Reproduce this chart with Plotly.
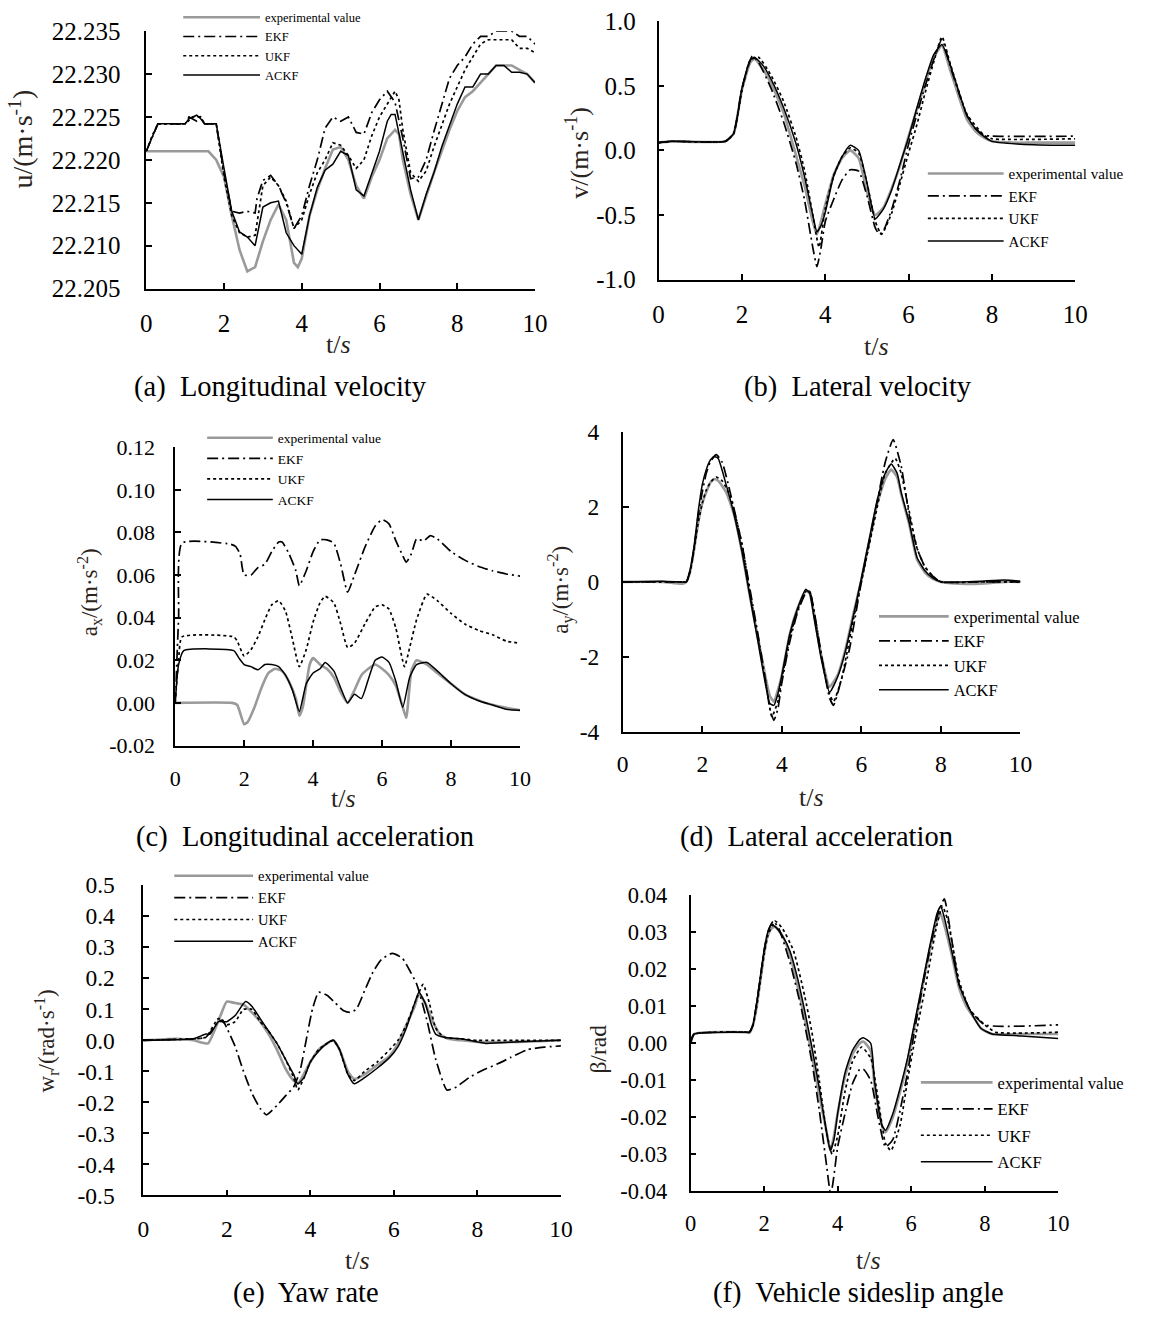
import plotly.graph_objects as go

W, H = 1155, 1319
FONT = "Liberation Serif"

# measured mapping page-pixel -> photographed-pixel (from a calibration run)
SHOT_AX, SHOT_SX = 4.3, 0.9867
SHOT_AY, SHOT_SY = 11.8, 0.9818


def PX(t):
    return (t - SHOT_AX) / SHOT_SX


def PY(t):
    return (t - SHOT_AY) / SHOT_SY


def X(t):
    return PX(t) / W


def Y(t):
    return 1 - PY(t) / H


NAMES = ["experimental value", "EKF", "UKF", "ACKF"]

# ---------------- (a) longitudinal velocity u ----------------
A_EXP_T = [0, 1.6, 1.8, 2.0, 2.2, 2.4, 2.6, 2.8, 3.0, 3.2, 3.4, 3.6, 3.8, 3.9, 4.0, 4.2, 4.4, 4.6, 4.8, 5.0,
           5.2, 5.4, 5.6, 5.8, 6.0, 6.2, 6.4, 6.5, 6.6, 6.8, 7.0, 7.2, 7.4, 7.6, 7.8, 8.0, 8.2, 8.4, 8.6, 8.8,
           9.0, 9.2, 9.4, 9.6, 9.8, 10]
A_EXP = [22.221, 22.221, 22.220, 22.218, 22.2135, 22.2095, 22.207, 22.2075, 22.2105, 22.213,
         22.2148, 22.213, 22.208, 22.2075, 22.2085, 22.2135, 22.2165, 22.219, 22.2212, 22.2215,
         22.220, 22.217, 22.2155, 22.218, 22.220, 22.2225, 22.2235, 22.223, 22.220, 22.216,
         22.213, 22.2158, 22.2185, 22.221, 22.2235, 22.2257, 22.2273, 22.228, 22.229, 22.230,
         22.231, 22.231, 22.231, 22.2305, 22.230, 22.229]
A_EKF_T = [0, 0.15, 0.3, 1.0, 1.1, 1.3, 1.4, 1.5, 1.8, 2.0, 2.2, 2.4, 2.6, 2.8, 2.85, 3.0, 3.2, 3.4, 3.6, 3.8,
           4.0, 4.2, 4.4, 4.6, 4.8, 5.0, 5.2, 5.4, 5.6, 5.8, 6.0, 6.2, 6.4, 6.6, 6.8, 7.0, 7.2, 7.4, 7.6, 7.8,
           8.0, 8.2, 8.4, 8.6, 8.8, 9.0, 9.2, 9.4, 9.6, 9.8, 10]
A_EKF = [22.221, 22.2225, 22.2242, 22.2242, 22.2250, 22.2245, 22.2250, 22.2242, 22.2242, 22.2185,
         22.214, 22.2138, 22.214, 22.2138, 22.2155, 22.2176, 22.2182, 22.217, 22.215, 22.212,
         22.2135, 22.217, 22.220, 22.2237, 22.225, 22.2245, 22.225, 22.2232, 22.223, 22.2255,
         22.227, 22.228, 22.2267, 22.2225, 22.2178, 22.218, 22.220, 22.2233, 22.2265, 22.2295,
         22.231, 22.232, 22.2335, 22.2344, 22.2344, 22.235, 22.235, 22.235, 22.2344, 22.2344, 22.2335]
A_UKF_T = [0, 0.15, 0.3, 1.0, 1.2, 1.4, 1.5, 1.8, 2.0, 2.2, 2.4, 2.6, 2.8, 3.0, 3.2, 3.4, 3.6, 3.8, 4.0, 4.2,
           4.4, 4.6, 4.8, 5.0, 5.2, 5.4, 5.6, 5.8, 6.0, 6.2, 6.4, 6.5, 6.6, 6.8, 7.0, 7.2, 7.4, 7.6, 7.8, 8.0,
           8.2, 8.4, 8.6, 8.8, 9.0, 9.2, 9.4, 9.6, 9.8, 10]
A_UKF = [22.221, 22.2228, 22.2242, 22.2242, 22.2250, 22.2250, 22.2242, 22.2242, 22.218, 22.2135,
         22.2115, 22.211, 22.2112, 22.217, 22.218, 22.217, 22.2152, 22.212, 22.213, 22.216,
         22.2185, 22.220, 22.222, 22.2217, 22.2205, 22.219, 22.220, 22.2228, 22.225, 22.2265,
         22.228, 22.227, 22.2235, 22.2185, 22.2175, 22.2187, 22.2215, 22.224, 22.2265, 22.2285,
         22.2305, 22.232, 22.2335, 22.234, 22.234, 22.234, 22.234, 22.233, 22.233, 22.2325]
A_ACKF_T = [0, 0.3, 1.0, 1.1, 1.3, 1.4, 1.5, 1.8, 2.0, 2.2, 2.4, 2.6, 2.8, 3.0, 3.2, 3.4, 3.6, 3.8, 4.0, 4.2,
            4.4, 4.6, 4.8, 5.0, 5.2, 5.4, 5.6, 5.8, 6.0, 6.2, 6.3, 6.4, 6.6, 6.8, 7.0, 7.2, 7.4, 7.6, 7.8, 8.0,
            8.2, 8.4, 8.6, 8.8, 9.0, 9.2, 9.4, 9.6, 9.8, 10]
A_ACKF = [22.221, 22.2242, 22.2242, 22.2248, 22.2252, 22.2248, 22.2242, 22.2242, 22.219, 22.214,
          22.2116, 22.211, 22.210, 22.2145, 22.215, 22.2152, 22.2115, 22.210, 22.209, 22.2135,
          22.2168, 22.2188, 22.2195, 22.221, 22.2205, 22.2165, 22.2158, 22.2185, 22.221, 22.2245,
          22.2253, 22.2253, 22.221, 22.2165, 22.213, 22.216, 22.2185, 22.2215, 22.224, 22.2265,
          22.2285, 22.2285, 22.230, 22.230, 22.231, 22.231, 22.2302, 22.2302, 22.230, 22.229]
A_YTICKS = [22.205, 22.210, 22.215, 22.220, 22.225, 22.230, 22.235]
A_YTEXT = ["22.205", "22.210", "22.215", "22.220", "22.225", "22.230", "22.235"]

# ---------------- (b) lateral velocity v ----------------
B_EXP_T = [0, 0.3, 1.6, 1.8, 2.0, 2.2, 2.3, 2.5, 2.7, 3.0, 3.3, 3.5, 3.7, 3.8, 4.0, 4.2, 4.4, 4.6, 4.8, 5.0,
           5.2, 5.4, 5.6, 5.8, 6.0, 6.2, 6.4, 6.6, 6.8, 7.0, 7.2, 7.4, 7.6, 7.8, 8.0, 8.5, 9.0, 10]
B_EXP = [0.06, 0.07, 0.07, 0.13, 0.47, 0.68, 0.71, 0.63, 0.52, 0.29, -0.04, -0.27, -0.55, -0.65, -0.42,
         -0.19, -0.06, 0.0, -0.06, -0.32, -0.50, -0.44, -0.29, -0.11, 0.11, 0.32, 0.52, 0.72, 0.81, 0.62,
         0.42, 0.24, 0.15, 0.10, 0.07, 0.06, 0.06, 0.06]
B_EKF_T = [0, 0.3, 1.6, 1.8, 2.0, 2.25, 2.4, 2.7, 3.0, 3.3, 3.5, 3.7, 3.8, 3.9, 4.0, 4.2, 4.4, 4.6, 4.8, 5.0,
           5.2, 5.3, 5.4, 5.6, 5.8, 6.0, 6.2, 6.4, 6.6, 6.8, 7.0, 7.2, 7.4, 7.6, 7.8, 8.0, 10]
B_EKF = [0.06, 0.07, 0.07, 0.13, 0.48, 0.73, 0.68, 0.48, 0.22, -0.10, -0.38, -0.75, -0.90, -0.75, -0.55,
         -0.38, -0.23, -0.15, -0.16, -0.35, -0.60, -0.65, -0.62, -0.45, -0.22, 0.05, 0.28, 0.50, 0.70, 0.86,
         0.65, 0.45, 0.27, 0.17, 0.12, 0.11, 0.11]
B_UKF_T = [0, 0.3, 1.6, 1.8, 2.0, 2.2, 2.4, 2.7, 3.0, 3.3, 3.5, 3.7, 3.85, 4.0, 4.2, 4.4, 4.6, 4.8, 5.0, 5.2,
           5.35, 5.6, 5.8, 6.0, 6.2, 6.4, 6.6, 6.8, 7.0, 7.4, 7.8, 8.0, 10]
B_UKF = [0.06, 0.07, 0.07, 0.13, 0.46, 0.70, 0.72, 0.58, 0.38, 0.10, -0.15, -0.50, -0.75, -0.45, -0.20,
         -0.05, 0.02, -0.02, -0.25, -0.55, -0.65, -0.48, -0.25, -0.02, 0.20, 0.45, 0.68, 0.88, 0.67, 0.28,
         0.12, 0.09, 0.09]
B_ACKF_T = [0, 0.3, 1.6, 1.8, 2.0, 2.2, 2.3, 2.5, 2.7, 3.0, 3.3, 3.5, 3.7, 3.8, 3.9, 4.0, 4.2, 4.4, 4.6, 4.8,
            5.0, 5.2, 5.4, 5.6, 5.8, 6.0, 6.2, 6.4, 6.6, 6.8, 7.0, 7.2, 7.4, 7.6, 7.8, 8.0, 8.6, 9.6, 10]
B_ACKF = [0.06, 0.07, 0.07, 0.13, 0.48, 0.70, 0.72, 0.66, 0.55, 0.33, 0.05, -0.20, -0.50, -0.63, -0.58,
          -0.48, -0.20, -0.05, 0.04, 0.0, -0.25, -0.53, -0.45, -0.30, -0.10, 0.10, 0.33, 0.55, 0.74, 0.82,
          0.66, 0.46, 0.27, 0.17, 0.11, 0.07, 0.05, 0.04, 0.04]
B_YTICKS = [-1.0, -0.5, 0.0, 0.5, 1.0]
B_YTEXT = ["-1.0", "-0.5", "0.0", "0.5", "1.0"]

# ---------------- (c) longitudinal acceleration ax ----------------
C_EXP_T = [0, 1.65, 1.8, 2.0, 2.1, 2.3, 2.5, 2.7, 2.9, 3.1, 3.3, 3.5, 3.6, 3.7, 3.9, 4.0, 4.2, 4.4, 4.6, 4.8,
           5.0, 5.2, 5.4, 5.6, 5.8, 6.0, 6.2, 6.4, 6.6, 6.7, 6.85, 7.0, 7.3, 7.6, 8.0, 8.4, 9.0, 9.5, 10]
C_EXP = [0.0, 0.0, -0.001, -0.010, -0.009, -0.002, 0.007, 0.014, 0.016, 0.015, 0.010, 0.002, -0.006, -0.002,
         0.018, 0.021, 0.018, 0.016, 0.012, 0.005, 0.0, 0.006, 0.013, 0.016, 0.018, 0.016, 0.013, 0.008,
         -0.002, -0.007, 0.015, 0.020, 0.018, 0.014, 0.009, 0.004, 0.0, -0.002, -0.0035]
C_EKF_T = [0, 0.1, 0.2, 1.6, 1.75, 1.88, 1.95, 2.0, 2.2, 2.4, 2.6, 2.8, 3.0, 3.1, 3.3, 3.5, 3.6, 3.8, 4.0, 4.2,
           4.4, 4.6, 4.8, 5.0, 5.2, 5.5, 5.8, 6.0, 6.2, 6.4, 6.6, 6.7, 6.85, 7.0, 7.2, 7.4, 7.6, 8.0, 8.4, 8.8,
           9.2, 9.6, 10]
C_EKF = [0.0, 0.04, 0.075, 0.0745, 0.0735, 0.070, 0.063, 0.060, 0.060, 0.0635, 0.065, 0.071, 0.0755, 0.0755,
         0.070, 0.062, 0.055, 0.062, 0.071, 0.0765, 0.0765, 0.075, 0.065, 0.052, 0.060, 0.073, 0.083, 0.086,
         0.084, 0.076, 0.069, 0.066, 0.070, 0.077, 0.076, 0.0785, 0.077, 0.071, 0.067, 0.064, 0.062, 0.0605,
         0.0595]
C_UKF_T = [0, 0.1, 0.2, 1.7, 1.8, 2.0, 2.2, 2.4, 2.6, 2.8, 3.0, 3.2, 3.4, 3.6, 3.8, 4.0, 4.2, 4.35, 4.6, 4.8,
           5.0, 5.2, 5.5, 5.8, 6.0, 6.2, 6.4, 6.65, 6.8, 7.0, 7.3, 7.6, 8.0, 8.4, 8.8, 9.2, 9.6, 10]
C_UKF = [0.0, 0.02, 0.031, 0.031, 0.029, 0.022, 0.025, 0.031, 0.039, 0.046, 0.048, 0.043, 0.030, 0.017,
         0.025, 0.038, 0.047, 0.050, 0.047, 0.037, 0.026, 0.028, 0.037, 0.045, 0.046, 0.044, 0.035, 0.017,
         0.026, 0.039, 0.051, 0.048, 0.042, 0.037, 0.034, 0.032, 0.029, 0.028]
C_ACKF_T = [0, 0.1, 0.25, 1.7, 1.85, 2.0, 2.2, 2.4, 2.6, 2.8, 3.0, 3.2, 3.4, 3.6, 3.8, 4.0, 4.2, 4.35, 4.6,
            4.8, 5.0, 5.2, 5.4, 5.6, 5.8, 6.0, 6.2, 6.4, 6.6, 6.8, 7.0, 7.3, 7.6, 8.0, 8.4, 8.8, 9.2, 9.6, 10]
C_ACKF = [0.0, 0.018, 0.0245, 0.0245, 0.021, 0.018, 0.017, 0.0155, 0.018, 0.018, 0.017, 0.013, 0.006, -0.004,
          0.009, 0.014, 0.016, 0.019, 0.015, 0.007, 0.0, 0.004, 0.002, 0.011, 0.020, 0.0215, 0.019, 0.010,
          -0.002, 0.012, 0.018, 0.019, 0.015, 0.009, 0.004, 0.001, -0.001, -0.003, -0.0035]
C_YTICKS = [-0.02, 0.0, 0.02, 0.04, 0.06, 0.08, 0.10, 0.12]
C_YTEXT = ["-0.02", "0.00", "0.02", "0.04", "0.06", "0.08", "0.10", "0.12"]

# ---------------- (d) lateral acceleration ay ----------------
D_T = [0, 1.0, 1.5, 1.6, 1.7, 1.8, 1.9, 2.0, 2.1, 2.2, 2.3, 2.4, 2.6, 2.8, 3.0, 3.2, 3.4, 3.6, 3.7, 3.8,
       3.9, 4.0, 4.2, 4.4, 4.6, 4.7, 4.8, 5.0, 5.2, 5.4, 5.6, 5.8, 6.0, 6.2, 6.4, 6.6, 6.75, 6.9, 7.0, 7.2,
       7.4, 7.6, 7.8, 8.0, 8.5, 9.0, 9.6, 10]
D_EXP = [0.0, 0.0, -0.05, 0.0, 0.3, 0.9, 1.6, 2.1, 2.4, 2.65, 2.75, 2.7, 2.4, 1.8, 0.8, -0.4, -1.5, -2.6,
         -3.05, -3.2, -2.9, -2.5, -1.4, -0.7, -0.25, -0.3, -0.8, -2.0, -2.8, -2.5, -1.8, -0.85, 0.05, 1.1,
         2.1, 2.75, 3.0, 2.8, 2.35, 1.55, 0.6, 0.25, 0.08, 0.0, -0.05, -0.05, 0.0, 0.0]
D_ACKF = [0.0, 0.02, 0.0, 0.0, 0.35, 1.0, 1.9, 2.6, 3.0, 3.25, 3.35, 3.3, 2.6, 1.8, 0.8, -0.4, -1.6, -2.8,
          -3.25, -3.3, -3.0, -2.5, -1.4, -0.7, -0.2, -0.3, -0.9, -2.1, -2.95, -2.55, -1.85, -0.9, 0.1, 1.15,
          2.2, 2.9, 3.15, 2.9, 2.4, 1.6, 0.65, 0.3, 0.1, 0.0, 0.0, 0.02, 0.05, 0.02]
D_EKF_T = [0, 1.5, 1.6, 1.7, 1.8, 1.9, 2.0, 2.1, 2.2, 2.35, 2.5, 2.7, 3.0, 3.2, 3.4, 3.6, 3.7, 3.8, 3.9, 4.0,
           4.2, 4.4, 4.6, 4.7, 4.8, 5.0, 5.2, 5.3, 5.5, 5.7, 6.0, 6.3, 6.6, 6.8, 7.0, 7.2, 7.4, 7.6, 7.8, 8.0,
           9.0, 10]
D_EKF = [0.0, 0.0, 0.0, 0.3, 0.95, 1.8, 2.4, 2.9, 3.2, 3.4, 3.2, 2.4, 1.0, -0.2, -1.4, -2.7, -3.4, -3.7,
         -3.4, -2.7, -1.6, -0.8, -0.3, -0.25, -0.7, -2.0, -3.1, -3.3, -2.6, -1.8, 0.0, 1.6, 3.2, 3.8, 3.1,
         1.8, 0.9, 0.4, 0.15, 0.0, 0.0, 0.0]
D_UKF_T = [0, 1.5, 1.6, 1.7, 1.8, 1.9, 2.0, 2.1, 2.2, 2.35, 2.5, 2.7, 3.0, 3.2, 3.4, 3.6, 3.75, 3.9, 4.0, 4.2,
           4.4, 4.6, 4.7, 4.8, 5.0, 5.2, 5.3, 5.5, 5.8, 6.0, 6.3, 6.6, 6.85, 7.0, 7.2, 7.4, 7.6, 7.8, 8.0, 9.0,
           10]
D_UKF = [0.0, 0.0, 0.0, 0.3, 0.9, 1.6, 2.1, 2.45, 2.65, 2.8, 2.7, 2.3, 1.0, -0.3, -1.5, -2.7, -3.6, -3.2,
         -2.6, -1.5, -0.75, -0.25, -0.25, -0.75, -2.0, -3.0, -3.2, -2.6, -1.0, 0.0, 1.5, 2.9, 3.3, 2.9, 1.9,
         0.9, 0.4, 0.15, 0.0, 0.0, 0.0]
D_YTICKS = [-4, -2, 0, 2, 4]
D_YTEXT = ["-4", "-2", "0", "2", "4"]

# ---------------- (e) yaw rate wr ----------------
E_EXP_T = [0, 0.8, 1.2, 1.55, 1.7, 1.85, 2.0, 2.2, 2.4, 2.6, 2.8, 3.0, 3.2, 3.4, 3.6, 3.7, 3.8, 4.0, 4.2, 4.4,
           4.55, 4.7, 4.9, 5.05, 5.3, 5.6, 5.9, 6.1, 6.3, 6.5, 6.6, 6.75, 6.9, 7.1, 7.3, 7.6, 8.0, 9.0, 10]
E_EXP = [0.0, 0.005, 0.0, -0.01, 0.03, 0.08, 0.125, 0.12, 0.115, 0.09, 0.06, 0.02, -0.03, -0.09, -0.13,
         -0.14, -0.12, -0.07, -0.03, -0.01, 0.0, -0.03, -0.10, -0.125, -0.11, -0.08, -0.05, -0.01, 0.05,
         0.11, 0.15, 0.12, 0.07, 0.02, 0.005, 0.0, -0.005, -0.005, 0.0]
E_EKF_T = [0, 1.2, 1.5, 1.8, 1.9, 2.0, 2.2, 2.4, 2.6, 2.8, 2.95, 3.2, 3.4, 3.6, 3.75, 3.9, 4.05, 4.2, 4.4,
           4.6, 4.8, 4.95, 5.1, 5.3, 5.5, 5.7, 5.96, 6.2, 6.4, 6.55, 6.8, 7.0, 7.27, 7.5, 7.8, 8.15, 8.5,
           8.8, 9.2, 9.6, 10]
E_EKF = [0.0, 0.005, 0.01, 0.06, 0.065, 0.04, -0.02, -0.10, -0.17, -0.22, -0.24, -0.21, -0.18, -0.15,
         -0.10, 0.0, 0.10, 0.155, 0.145, 0.12, 0.095, 0.09, 0.10, 0.16, 0.22, 0.26, 0.28, 0.265, 0.22, 0.18,
         0.06, -0.06, -0.16, -0.15, -0.12, -0.095, -0.075, -0.055, -0.03, -0.022, -0.018]
E_UKF_T = [0, 1.2, 1.5, 1.8, 2.0, 2.2, 2.4, 2.6, 2.8, 3.0, 3.2, 3.4, 3.6, 3.7, 3.85, 4.0, 4.2, 4.4, 4.55, 4.7,
           4.9, 5.05, 5.3, 5.6, 5.9, 6.1, 6.3, 6.5, 6.7, 6.85, 7.0, 7.2, 7.6, 8.0, 9.0, 10]
E_UKF = [0.0, 0.005, 0.01, 0.07, 0.05, 0.06, 0.10, 0.10, 0.06, 0.03, -0.01, -0.06, -0.12, -0.16, -0.12,
         -0.07, -0.03, -0.01, 0.0, -0.03, -0.11, -0.13, -0.10, -0.07, -0.03, 0.0, 0.05, 0.12, 0.18, 0.12,
         0.04, 0.01, 0.005, 0.0, 0.0, 0.0]
E_ACKF_T = [0, 1.2, 1.5, 1.6, 1.8, 2.0, 2.2, 2.45, 2.6, 2.8, 3.0, 3.2, 3.4, 3.6, 3.7, 3.85, 4.0, 4.2, 4.4,
            4.55, 4.7, 4.9, 5.05, 5.3, 5.6, 5.9, 6.1, 6.3, 6.5, 6.6, 6.75, 6.9, 7.0, 7.2, 7.6, 8.0, 8.2, 9.0, 10]
E_ACKF = [0.0, 0.005, 0.02, 0.02, 0.06, 0.06, 0.08, 0.125, 0.11, 0.07, 0.03, -0.01, -0.06, -0.11, -0.14,
          -0.12, -0.07, -0.035, -0.01, 0.0, -0.03, -0.11, -0.14, -0.12, -0.09, -0.055, -0.02, 0.04, 0.12,
          0.155, 0.12, 0.05, 0.02, 0.01, 0.005, -0.005, -0.01, -0.005, 0.0]
E_YTICKS = [-0.5, -0.4, -0.3, -0.2, -0.1, 0.0, 0.1, 0.2, 0.3, 0.4, 0.5]
E_YTEXT = ["-0.5", "-0.4", "-0.3", "-0.2", "-0.1", "0.0", "0.1", "0.2", "0.3", "0.4", "0.5"]

# ---------------- (f) vehicle sideslip angle beta ----------------
F_T = [0, 0.1, 1.5, 1.6, 1.7, 1.8, 1.9, 2.0, 2.1, 2.2, 2.3, 2.5, 2.7, 2.9, 3.1, 3.3, 3.5, 3.7, 3.8, 3.9,
       4.0, 4.2, 4.4, 4.6, 4.7, 4.9, 5.0, 5.2, 5.3, 5.5, 5.7, 5.9, 6.1, 6.3, 6.5, 6.7, 6.8, 6.9, 7.1, 7.3,
       7.5, 7.7, 7.9, 8.2, 9.0, 10]
F_EXP = [0.0, 0.0025, 0.003, 0.0028, 0.005, 0.010, 0.017, 0.024, 0.029, 0.031, 0.0315, 0.029, 0.024, 0.016,
         0.007, -0.003, -0.014, -0.024, -0.029, -0.025, -0.019, -0.009, -0.003, 0.0, 0.0005, -0.002, -0.011,
         -0.022, -0.024, -0.020, -0.013, -0.005, 0.005, 0.015, 0.025, 0.033, 0.035, 0.032, 0.024, 0.015,
         0.010, 0.007, 0.004, 0.0025, 0.0025, 0.0025]
F_ACKF = [0.0, 0.0025, 0.003, 0.003, 0.005, 0.011, 0.018, 0.025, 0.030, 0.032, 0.0315, 0.029, 0.025, 0.018,
          0.009, -0.001, -0.012, -0.024, -0.029, -0.026, -0.019, -0.008, -0.002, 0.001, 0.0015, 0.0, -0.010,
          -0.022, -0.0235, -0.019, -0.012, -0.004, 0.006, 0.016, 0.026, 0.035, 0.037, 0.034, 0.025, 0.016,
          0.011, 0.007, 0.004, 0.0025, 0.002, 0.0013]
F_EKF_T = [0, 0.1, 1.5, 1.6, 1.7, 1.8, 1.9, 2.0, 2.1, 2.25, 2.4, 2.7, 3.0, 3.3, 3.5, 3.7, 3.8, 3.85, 4.0,
           4.2, 4.4, 4.6, 4.7, 4.9, 5.1, 5.3, 5.5, 5.7, 5.9, 6.1, 6.4, 6.7, 6.9, 7.1, 7.3, 7.6, 8.0, 10]
F_EKF = [0.0, 0.0025, 0.003, 0.003, 0.005, 0.011, 0.018, 0.025, 0.030, 0.033, 0.031, 0.022, 0.010, -0.005,
         -0.018, -0.033, -0.040, -0.039, -0.028, -0.019, -0.011, -0.007, -0.007, -0.010, -0.020, -0.028,
         -0.026, -0.018, -0.008, 0.004, 0.020, 0.034, 0.039, 0.028, 0.016, 0.009, 0.005, 0.005]
F_UKF_T = [0, 0.1, 1.5, 1.6, 1.7, 1.8, 1.9, 2.0, 2.1, 2.3, 2.5, 2.8, 3.1, 3.3, 3.5, 3.7, 3.85, 4.0, 4.2, 4.4,
           4.65, 4.9, 5.1, 5.3, 5.45, 5.7, 5.9, 6.1, 6.4, 6.7, 6.85, 7.0, 7.3, 7.6, 8.0, 8.3, 10]
F_UKF = [0.0, 0.0025, 0.003, 0.003, 0.005, 0.010, 0.017, 0.024, 0.029, 0.033, 0.031, 0.025, 0.013, 0.003,
         -0.010, -0.024, -0.030, -0.025, -0.013, -0.005, -0.001, -0.004, -0.015, -0.027, -0.029, -0.022,
         -0.010, 0.001, 0.016, 0.032, 0.037, 0.033, 0.017, 0.009, 0.005, 0.003, 0.003]
F_YTICKS = [-0.04, -0.03, -0.02, -0.01, 0.0, 0.01, 0.02, 0.03, 0.04]
F_YTEXT = ["-0.04", "-0.03", "-0.02", "-0.01", "0.00", "0.01", "0.02", "0.03", "0.04"]

X_TICKS = [0, 2, 4, 6, 8, 10]
X_TEXT = ["0", "2", "4", "6", "8", "10"]

STYLE = {
    "experimental value": dict(color="#9a9a9a", width=2.6, dash="solid"),
    "EKF": dict(color="black", width=1.7, dash="11px,4px,2px,4px"),
    "UKF": dict(color="black", width=1.7, dash="3px,3px"),
    "ACKF": dict(color="black", width=1.5, dash="solid"),
}

# geometry given in target-picture pixels: plot box x0,x1 ; y top, y bottom
PANELS = [
    dict(series=[(A_EXP_T, A_EXP), (A_EKF_T, A_EKF), (A_UKF_T, A_UKF), (A_ACKF_T, A_ACKF)],
         box=(145, 535, 30, 288), yrange=(22.205, 22.235), yt=(A_YTICKS, A_YTEXT), shape="linear",
         tfs=25, ystand=19, xstand=12,
         ytitle="u/(m·s<sup>-1</sup>)", yfs=28, ytpos=(20, 138), xtpos=(338, 344),
         cap="(a)  Longitudinal velocity", cappos=(280, 387),
         leg=dict(line=183, text=265, row=16.5, fs=12.5, gap=0)),
    dict(series=[(B_EXP_T, B_EXP), (B_EKF_T, B_EKF), (B_UKF_T, B_UKF), (B_ACKF_T, B_ACKF)],
         box=(659, 1077, 20, 279), yrange=(-1.0, 1.0), yt=(B_YTICKS, B_YTEXT), shape="spline",
         tfs=25, ystand=16, xstand=12,
         ytitle="v/(m·s<sup>-1</sup>)", yfs=26, ytpos=(578, 152), xtpos=(878, 346),
         cap="(b)  Lateral velocity", cappos=(859, 387),
         leg=dict(line=930, text=1011, row=173, fs=15, gap=0)),
    dict(series=[(C_EXP_T, C_EXP), (C_EKF_T, C_EKF), (C_UKF_T, C_UKF), (C_ACKF_T, C_ACKF)],
         box=(174, 520, 447, 746), yrange=(-0.02, 0.12), yt=(C_YTICKS, C_YTEXT), shape="spline",
         tfs=22, ystand=14, xstand=12,
         ytitle="a<sub>x</sub>/(m·s<sup>-2</sup>)", yfs=23, ytpos=(88, 592), xtpos=(343, 799),
         cap="(c)  Longitudinal acceleration", cappos=(304, 838),
         leg=dict(line=207, text=278, row=438, fs=13.5, gap=0)),
    dict(series=[(D_T, D_EXP), (D_EKF_T, D_EKF), (D_UKF_T, D_UKF), (D_T, D_ACKF)],
         box=(623, 1022, 432, 732), yrange=(-4, 4), yt=(D_YTICKS, D_YTEXT), shape="spline",
         tfs=23.5, ystand=17, xstand=10,
         ytitle="a<sub>y</sub>/(m·s<sup>-2</sup>)", yfs=23, ytpos=(560, 590), xtpos=(812, 798),
         cap="(d)  Lateral acceleration", cappos=(817, 838),
         leg=dict(line=881, text=956, row=617, fs=16.5, gap=0)),
    dict(series=[(E_EXP_T, E_EXP), (E_EKF_T, E_EKF), (E_UKF_T, E_UKF), (E_ACKF_T, E_ACKF)],
         box=(142, 561, 886, 1197), yrange=(-0.5, 0.5), yt=(E_YTICKS, E_YTEXT), shape="spline",
         tfs=23.5, ystand=22, xstand=12,
         ytitle="w<sub>r</sub>/(rad·s<sup>-1</sup>)", yfs=23, ytpos=(45, 1042), xtpos=(357, 1262),
         cap="(e)  Yaw rate", cappos=(305, 1295),
         leg=dict(line=174, text=258, row=877, fs=14.5, gap=0)),
    dict(series=[(F_T, F_EXP), (F_EKF_T, F_EKF), (F_UKF_T, F_UKF), (F_T, F_ACKF)],
         box=(691, 1060, 896, 1193), yrange=(-0.04, 0.04), yt=(F_YTICKS, F_YTEXT), shape="spline",
         tfs=22.5, ystand=17, xstand=11,
         ytitle="β/rad", yfs=23.5, ytpos=(598, 1050), xtpos=(870, 1262),
         cap="(f)  Vehicle sideslip angle", cappos=(860, 1295),
         leg=dict(line=923, text=1000, row=1084, fs=16.5, gap=2)),
]

fig = go.Figure()
layout = dict(
    width=W, height=H, margin=dict(l=0, r=0, t=0, b=0),
    paper_bgcolor="white", plot_bgcolor="rgba(0,0,0,0)",
    font=dict(family=FONT, color="black"), showlegend=True,
)
annotations = []
TITLE_COLOR = "#2a2420"

for i, p in enumerate(PANELS, start=1):
    sfx = "" if i == 1 else str(i)
    xa, ya, lg = "x" + sfx, "y" + sfx, "legend" + sfx
    x0, x1, yt, yb = p["box"]
    for name, (tt, vv) in zip(NAMES, p["series"]):
        st = STYLE[name]
        fig.add_trace(go.Scatter(
            x=tt, y=vv, mode="lines", name=name, xaxis=xa, yaxis=ya, legend=lg,
            legendgroup=f"{i}-{name}",
            line=dict(color=st["color"], width=st["width"], dash=st["dash"],
                      shape=p["shape"], smoothing=0.5 if p["shape"] == "spline" else None),
            hoverinfo="skip",
        ))
    common = dict(
        ticks="inside", ticklen=6, tickwidth=1.5, tickcolor="black",
        showline=True, linewidth=1.6, linecolor="black", showgrid=False, zeroline=False,
        tickfont=dict(family=FONT, size=p["tfs"], color="black"), fixedrange=True,
    )
    layout["xaxis" + sfx] = dict(
        domain=[X(x0), X(x1)], anchor=ya, range=[0, 10], tickvals=X_TICKS, ticktext=X_TEXT,
        ticklabelstandoff=p["xstand"], **common,
    )
    layout["yaxis" + sfx] = dict(
        domain=[Y(yb), Y(yt)], anchor=xa, range=list(p["yrange"]),
        tickvals=p["yt"][0], ticktext=p["yt"][1], ticklabelstandoff=p["ystand"], **common,
    )
    L = p["leg"]
    line_px, text_px = PX(L["line"]), PX(L["text"])
    iw = text_px - line_px - 6.3
    first_off = (1.3 * L["fs"] + 3.5) / 2 + 5.5
    row_py = PY(L["row"])
    layout[lg] = dict(
        x=(line_px - 6) / W, y=1 - (row_py - first_off) / H, xanchor="left", yanchor="top",
        xref="paper", yref="paper", bgcolor="rgba(0,0,0,0)", borderwidth=0,
        font=dict(family=FONT, size=L["fs"], color="black"), itemwidth=iw,
        tracegroupgap=L["gap"], traceorder="grouped",
    )
    annotations.append(dict(
        text=p["ytitle"], x=X(p["ytpos"][0]), y=Y(p["ytpos"][1]), xref="paper", yref="paper",
        showarrow=False, textangle=-90, xanchor="center", yanchor="middle",
        font=dict(family=FONT, size=p["yfs"], color=TITLE_COLOR),
    ))
    annotations.append(dict(
        text="t/<i>s</i>", x=X(p["xtpos"][0]), y=Y(p["xtpos"][1]), xref="paper", yref="paper",
        showarrow=False, xanchor="center", yanchor="middle",
        font=dict(family=FONT, size=26, color=TITLE_COLOR),
    ))
    annotations.append(dict(
        text=p["cap"], x=X(p["cappos"][0]), y=Y(p["cappos"][1]), xref="paper", yref="paper",
        showarrow=False, xanchor="center", yanchor="middle",
        font=dict(family=FONT, size=28.5, color="black"),
    ))

layout["annotations"] = annotations
fig.update_layout(**layout)

fig.write_html("out.html", config={"displayModeBar": False},
               post_script="document.body.style.margin='0';")
